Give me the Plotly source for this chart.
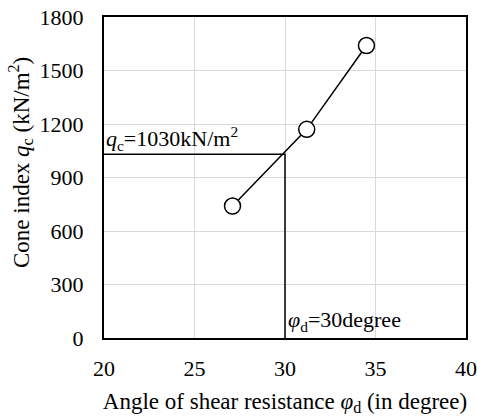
import plotly.graph_objects as go

phi = [27.1, 31.2, 34.5]
qc = [740, 1170, 1640]
ref_phi = 30
ref_qc = 1030
x_ticks = [20, 25, 30, 35, 40]
y_ticks = [0, 300, 600, 900, 1200, 1500, 1800]

font = "Liberation Serif, Times New Roman, serif"

fig = go.Figure()
fig.add_trace(go.Scatter(x=[20, ref_phi, ref_phi], y=[ref_qc, ref_qc, 0], mode="lines",
                         line=dict(color="black", width=1.5), showlegend=False, hoverinfo="skip"))
fig.add_trace(go.Scatter(x=phi, y=qc, mode="lines+markers",
                         line=dict(color="black", width=1.5),
                         marker=dict(size=16, color="white", line=dict(color="black", width=1.5)),
                         showlegend=False))

fig.add_annotation(x=20, y=ref_qc, xref="x", yref="y", xanchor="left", yanchor="bottom",
                   text="<i>q</i><sub>c</sub>=1030kN/m<sup>2</sup>", showarrow=False,
                   font=dict(family=font, size=22, color="black"), xshift=0, yshift=-2)
fig.add_annotation(x=ref_phi, y=0, xref="x", yref="y", xanchor="left", yanchor="bottom",
                   text="<i>φ</i><sub>d</sub>=30degree", showarrow=False,
                   font=dict(family=font, size=22, color="black"), xshift=1, yshift=1)
# y-axis title placed as in the reference (slightly above the plot centre)
fig.add_annotation(x=0, y=0.545, xref="paper", yref="paper", xanchor="center", yanchor="middle",
                   xshift=-84, textangle=-90, showarrow=False,
                   text="Cone index <i>q</i><sub>c</sub> (kN/m<sup>2</sup>)",
                   font=dict(family=font, size=23, color="black"))

fig.update_layout(
    width=477, height=419,
    margin=dict(l=104, r=11, t=17, b=81),
    paper_bgcolor="white", plot_bgcolor="white",
    font=dict(family=font, size=22, color="black"),
    xaxis=dict(range=[20, 40], tickvals=x_ticks, showgrid=True, gridcolor="#d9d9d9", gridwidth=1,
               showline=True, linecolor="black", linewidth=2, mirror=True, zeroline=False,
               automargin=False,
               ticks="", ticklabelstandoff=10, tickfont=dict(size=22),
               title=dict(text="Angle of shear resistance <i>φ</i><sub>d</sub> (in degree)",
                          font=dict(size=23), standoff=12)),
    yaxis=dict(range=[0, 1800], tickvals=y_ticks, showgrid=True, gridcolor="#d9d9d9", gridwidth=1,
               showline=True, linecolor="black", linewidth=2, mirror=True, zeroline=False,
               automargin=False,
               ticks="", ticklabelstandoff=14, tickfont=dict(size=22)),
)

fig.write_html("out.html")
